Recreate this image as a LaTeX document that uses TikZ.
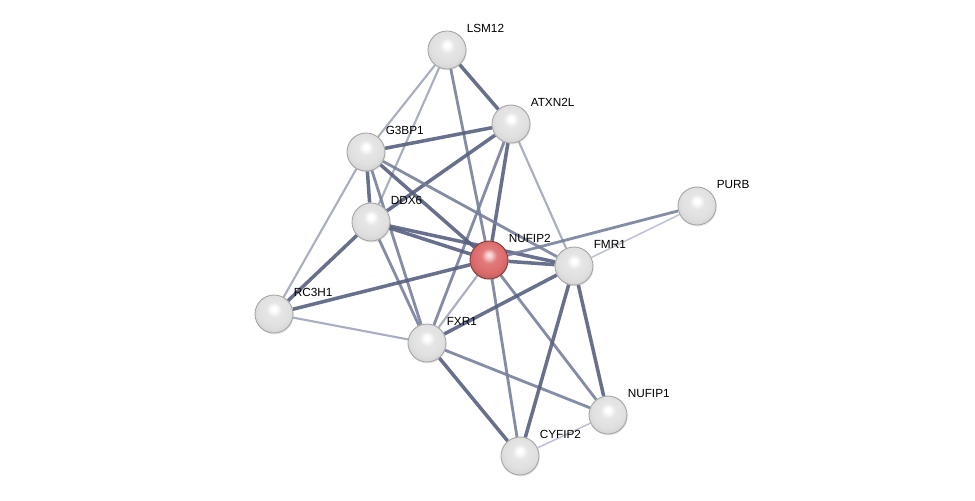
\documentclass[tikz,border=0pt]{standalone}
\usepackage{fontspec}
\setmainfont{Liberation Sans}
\usetikzlibrary{backgrounds,shadows}
\definecolor{edgestrong}{RGB}{88,96,128}
\definecolor{edgemid}{RGB}{120,127,155}
\definecolor{edgeweak}{RGB}{160,165,186}
\definecolor{edgefaint}{RGB}{190,193,207}
\definecolor{queryred}{RGB}{222,108,108}
\pgfdeclareradialshading{protball}{\pgfpoint{0bp}{7bp}}{color(0bp)=(white); color(3bp)=(white);
  color(10bp)=(gray!20); color(20bp)=(gray!24); color(27bp)=(gray!32); color(32bp)=(gray!55); color(50bp)=(gray!55)}
\pgfdeclareradialshading{queryball}{\pgfpoint{0bp}{7bp}}{color(0bp)=(queryred!20!white); color(3bp)=(queryred!30!white);
  color(10bp)=(queryred!90!white); color(20bp)=(queryred); color(27bp)=(queryred!90!black); color(32bp)=(queryred!65!black); color(50bp)=(queryred!65!black)}
\tikzset{
  prot/.style={circle, minimum size=0.76cm, inner sep=0pt, shading=protball,
    draw=gray!70, line width=0.5pt,
    drop shadow={shadow xshift=0.4pt, shadow yshift=-0.8pt, opacity=0.2}},
  query/.style={prot, shading=queryball, draw=queryred!55!black},
  lbl/.style={font=\fontsize{6.7}{8}\selectfont, inner sep=0pt,
    label distance=0pt, yshift=0.44cm},
  strong/.style={draw=edgestrong, line width=2pt, draw opacity=0.9},
  mid/.style={draw=edgemid, line width=1.6pt, draw opacity=0.9},
  weak/.style={draw=edgeweak, line width=1.2pt, draw opacity=0.9},
  faint/.style={draw=edgefaint, line width=0.85pt}
}
\begin{document}
\begin{tikzpicture}[x=0.02cm, y=-0.02cm]
\useasboundingbox (0,0) rectangle (975,501);
% proteins
\node[prot, label={[lbl]east:LSM12}] (lsm12) at (447,50) {};
\node[prot, label={[lbl]east:ATXN2L}] (atxn2l) at (511,124) {};
\node[prot, label={[lbl]east:G3BP1}] (g3bp1) at (366,152) {};
\node[prot, label={[lbl]east:DDX6}] (ddx6) at (371,222) {};
\node[query, label={[lbl]east:NUFIP2}] (nufip2) at (489,260) {};
\node[prot, label={[lbl]east:FMR1}] (fmr1) at (574,266) {};
\node[prot, label={[lbl]east:PURB}] (purb) at (697,206) {};
\node[prot, label={[lbl]east:RC3H1}] (rc3h1) at (274,314) {};
\node[prot, label={[lbl]east:FXR1}] (fxr1) at (427,343) {};
\node[prot, label={[lbl]east:NUFIP1}] (nufip1) at (608,415) {};
\node[prot, label={[lbl]east:CYFIP2}] (cyfip2) at (520,456) {};
% interactions
\begin{pgfonlayer}{background}
\draw[strong] (lsm12) -- (atxn2l);
\draw[weak] (lsm12) -- (g3bp1);
\draw[weak] (lsm12) -- (ddx6);
\draw[mid] (lsm12) -- (nufip2);
\draw[strong] (atxn2l) -- (g3bp1);
\draw[strong] (atxn2l) -- (ddx6);
\draw[strong] (atxn2l) -- (nufip2);
\draw[mid] (atxn2l) -- (fxr1);
\draw[weak] (atxn2l) -- (fmr1);
\draw[strong] (g3bp1) -- (ddx6);
\draw[mid] (g3bp1) -- (fxr1);
\draw[strong] (g3bp1) -- (nufip2);
\draw[mid] (g3bp1) -- (fmr1);
\draw[weak] (g3bp1) -- (rc3h1);
\draw[strong] (ddx6) -- (nufip2);
\draw[strong] (ddx6) -- (fmr1);
\draw[strong] (ddx6) -- (rc3h1);
\draw[mid] (ddx6) -- (fxr1);
\draw[strong] (nufip2) -- (fmr1);
\draw[strong] (nufip2) -- (rc3h1);
\draw[weak] (nufip2) -- (fxr1);
\draw[mid] (nufip2) -- (cyfip2);
\draw[mid] (nufip2) -- (nufip1);
\draw[mid] (nufip2) -- (purb);
\draw[faint] (fmr1) -- (purb);
\draw[strong] (fxr1) -- (fmr1);
\draw[weak] (fxr1) -- (rc3h1);
\draw[strong] (fxr1) -- (cyfip2);
\draw[mid] (fxr1) -- (nufip1);
\draw[strong] (fmr1) -- (cyfip2);
\draw[strong] (fmr1) -- (nufip1);
\draw[faint] (cyfip2) -- (nufip1);
\end{pgfonlayer}
\end{tikzpicture}
\end{document}
